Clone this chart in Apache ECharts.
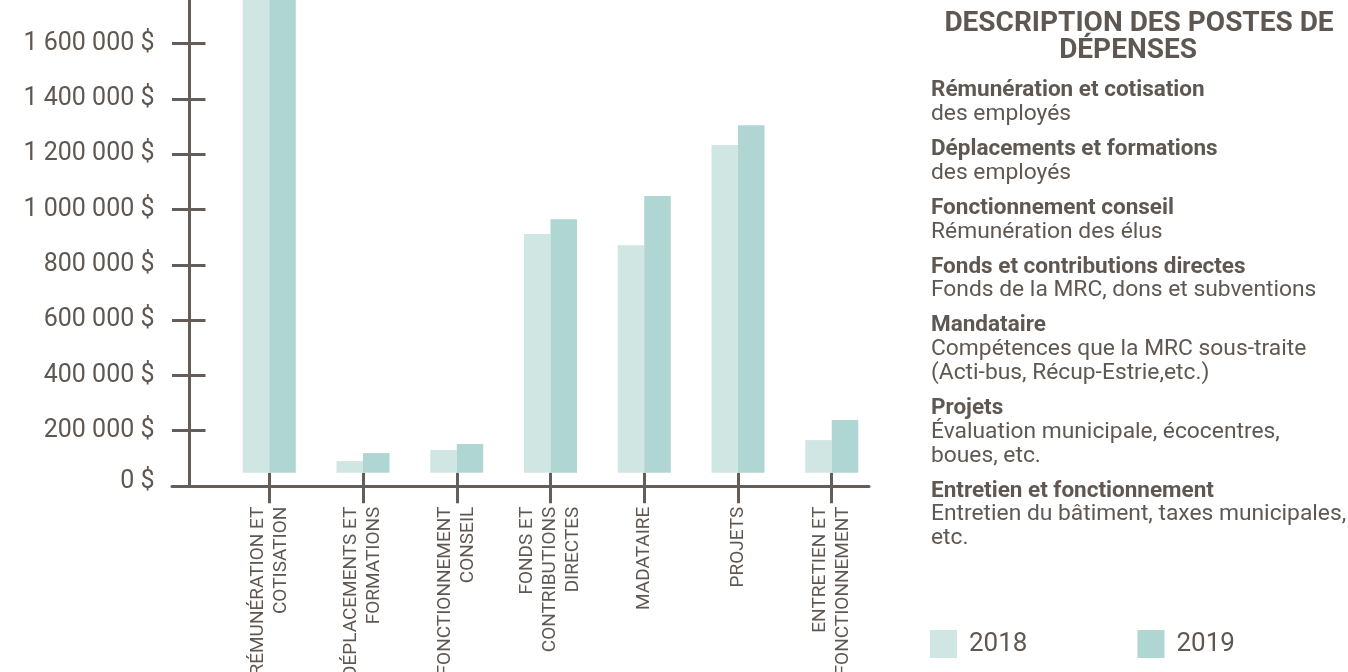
<!DOCTYPE html>
<html><head><meta charset="utf-8">
<script src="https://cdn.jsdelivr.net/npm/echarts@6/dist/echarts.min.js"></script>
<style>
html,body{margin:0;padding:0;background:#fff;overflow:hidden;width:1348px;height:672px}
#c{position:absolute;left:0;top:-200px;width:1348px;height:872px}
</style></head>
<body><div id="c"></div>
<script>
// ---- data ----
const categories = ['RÉMUNÉRATION ET\nCOTISATION','DÉPLACEMENTS ET\nFORMATIONS','FONCTIONNEMENT\nCONSEIL','FONDS ET\nCONTRIBUTIONS\nDIRECTES','MADATAIRE','PROJETS','ENTRETIEN ET\nFONCTIONNEMENT'];
const years = ['2018','2019'];
const values2018 = [1900000, 90000, 130000, 911000, 871000, 1233000, 166000];
const values2019 = [1950000, 119000, 152000, 965000, 1049000, 1305000, 239000];
const yTicks = {min:0, max:2400000, interval:200000};
const panelTitle = ['DESCRIPTION DES POSTES DE','DÉPENSES'];
const descTitles = ['Rémunération et cotisation','Déplacements et formations','Fonctionnement conseil','Fonds et contributions directes','Mandataire','Projets','Entretien et fonctionnement'];
const descLines = [['des employés'],['des employés'],['Rémunération des élus'],['Fonds de la MRC, dons et subventions'],['Compétences que la MRC sous-traite','(Acti-bus, Récup-Estrie,etc.)'],['Évaluation municipale, écocentres,','boues, etc.'],['Entretien du bâtiment, taxes municipales,','etc.']];

// ---- style ----
const OFF = 200;
const txt = '#5f5852';
const axisCol = '#655d57';
const c2018 = '#d0e6e3', c2019 = '#afd6d3';
const FONT = 'Roboto';
function fmt(v){
  const s = String(v).replace(/\B(?=(\d{3})+(?!\d))/g,' ') + ' $';
  return v === 0 ? '{z|' + s + '}' : s;
}

const graphic = [];
graphic.push({type:'text', style:{text:panelTitle[0], x:1139, y:24+OFF, textAlign:'center', textVerticalAlign:'middle', font:'bold 28px '+FONT, fill:txt}});
graphic.push({type:'text', style:{text:panelTitle[1], x:1128, y:51+OFF, textAlign:'center', textVerticalAlign:'middle', font:'bold 28px '+FONT, fill:txt}});
let y = 90.5;
const LH = 23.8, GAP = 11.2;
descTitles.forEach((t,i)=>{
  graphic.push({type:'text', style:{text:t, x:931, y:y+OFF, textVerticalAlign:'middle', font:'bold 22.5px '+FONT, fill:txt}});
  y += LH;
  descLines[i].forEach(l=>{
    graphic.push({type:'text', style:{text:l, x:931, y:y+OFF, textVerticalAlign:'middle', font:'22.8px '+FONT, fill:txt}});
    y += LH;
  });
  y += GAP;
});

const chart = echarts.init(document.getElementById('c'), null, {renderer:'canvas'});
const scalePx = 55.3/200000;
const barBottomY = 672.7; // chart coords
const axisZeroY = 686;
const gridTop = axisZeroY - (yTicks.max)*scalePx;
const barMin = Math.round((axisZeroY - barBottomY)/scalePx);

chart.setOption({
  animation:false,
  textStyle:{fontFamily:FONT},
  grid:[
    {left:172, right:1348-869, top:gridTop, bottom:872-axisZeroY, outerBoundsMode:'none', containLabel:false},
    {left:222.4, right:1348-878.6, top:gridTop, bottom:872-barBottomY, outerBoundsMode:'none', containLabel:false}
  ],
  legend:{
    data:years, left:930, top:630+OFF, padding:0, itemWidth:27, itemHeight:28, itemGap:110, icon:'rect',
    textStyle:{fontSize:26, color:txt, fontFamily:FONT, padding:[3,0,0,7]}
  },
  xAxis:[
    {gridIndex:0, type:'category', data:[''], axisLine:{lineStyle:{color:axisCol, width:3}}, axisTick:{show:false}, axisLabel:{show:false}},
    {gridIndex:1, type:'category', data:categories,
     axisLine:{show:false},
     axisTick:{show:true, alignWithLabel:true, length:30.5, lineStyle:{color:axisCol, width:3}},
     axisLabel:{interval:0, rotate:90, margin:34, fontSize:19, lineHeight:23, color:txt, fontFamily:FONT, align:'right'}}
  ],
  yAxis:[
    {gridIndex:0, type:'value', position:'left', min:yTicks.min, max:yTicks.max, interval:yTicks.interval, offset:-17.5,
     axisLine:{show:true, lineStyle:{color:axisCol, width:3}},
     axisTick:{show:true, length:17.5, lineStyle:{color:axisCol, width:3}},
     axisLabel:{formatter:fmt, fontSize:25, color:txt, margin:35, fontFamily:FONT,
       rich:{z:{fontSize:25, color:txt, fontFamily:FONT, padding:[0,0,9,0]}}},
     splitLine:{show:false}},
    {gridIndex:0, type:'value', position:'left', min:yTicks.min, max:yTicks.max, interval:yTicks.interval, offset:-17.5,
     axisLine:{show:false},
     axisTick:{show:true, inside:true, length:16, lineStyle:{color:axisCol, width:3}},
     axisLabel:{show:false}, splitLine:{show:false}},
    {gridIndex:1, type:'value', min:barMin, max:yTicks.max, show:false, splitLine:{show:false}}
  ],
  series:[
    {name:years[0], type:'bar', xAxisIndex:1, yAxisIndex:2, data:values2018, barWidth:26.5, barGap:'0%', clip:true, itemStyle:{color:c2018}},
    {name:years[1], type:'bar', xAxisIndex:1, yAxisIndex:2, data:values2019, barWidth:26.5, barGap:'0%', clip:true, itemStyle:{color:c2019}}
  ],
  graphic:graphic
});
</script></body></html>
